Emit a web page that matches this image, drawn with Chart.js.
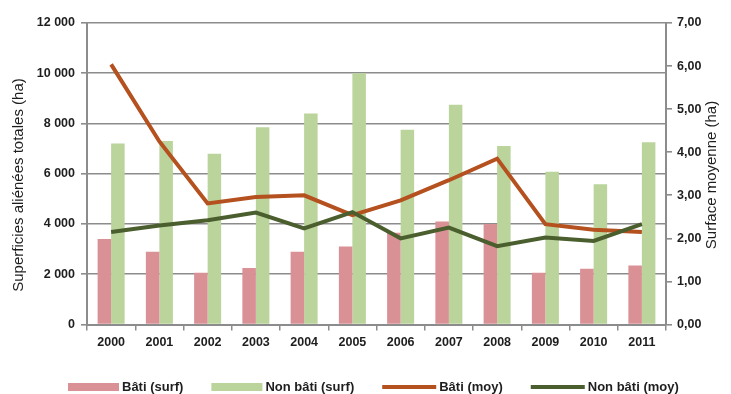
<!DOCTYPE html>
<html><head><meta charset="utf-8">
<script src="https://cdn.jsdelivr.net/npm/chart.js@4.4.0/dist/chart.umd.min.js"></script>
<style>html,body{margin:0;padding:0;background:#fff;}#wrap{width:731px;height:394px;}</style>
</head><body><div id="wrap"><canvas id="c" width="731" height="394"></canvas></div>
<script>
const years = ['2000','2001','2002','2003','2004','2005','2006','2007','2008','2009','2010','2011'];
const batiSurf = [3400, 2900, 2060, 2250, 2900, 3100, 3650, 4100, 4000, 2060, 2220, 2350];
const nonBatiSurf = [7200, 7300, 6800, 7850, 8400, 10000, 7750, 8750, 7100, 6080, 5580, 7250];
const batiMoy = [6.04, 4.25, 2.81, 2.96, 3.00, 2.54, 2.88, 3.35, 3.85, 2.33, 2.20, 2.15];
const nonBatiMoy = [2.15, 2.30, 2.42, 2.60, 2.23, 2.61, 2.00, 2.25, 1.82, 2.02, 1.94, 2.33];
const leftTicks = [0, 2000, 4000, 6000, 8000, 10000, 12000];
const rightTicks = [0, 1, 2, 3, 4, 5, 6, 7];
const leftTitle = 'Superficies aliénées totales (ha)';
const rightTitle = 'Surface moyenne (ha)';

const GRID = '#8c8c8c';
const TXT = '#1e1e1e';
const tickFont = {family: '"Liberation Sans", Arial, sans-serif', size: 12.5, weight: 'bold'};

function fmtThousands(v){
  const s = String(Math.round(v));
  return s.replace(/\B(?=(\d{3})+(?!\d))/g, ' ');
}

const customPlugin = {
  id: 'custom',
  afterDraw(chart){
    const ctx = chart.ctx;
    ctx.save();
    ctx.fillStyle = TXT;
    ctx.font = '15px "Liberation Sans", Arial, sans-serif';
    ctx.textAlign = 'center';
    ctx.textBaseline = 'middle';
    ctx.save(); ctx.translate(19, 185); ctx.rotate(-Math.PI/2); ctx.fillText(leftTitle, 0, 0); ctx.restore();
    ctx.save(); ctx.translate(712, 175); ctx.rotate(-Math.PI/2); ctx.fillText(rightTitle, 0, 0); ctx.restore();
    // legend
    let x = 68;
    const yc = 387;
    ctx.font = 'bold 13px "Liberation Sans", Arial, sans-serif';
    ctx.textAlign = 'left';
    const ds = chart.data.datasets;
    ds.forEach(d => {
      if (d.type === 'line') {
        ctx.strokeStyle = d.borderColor; ctx.lineWidth = 4;
        ctx.beginPath(); ctx.moveTo(x, yc); ctx.lineTo(x + 54, yc); ctx.stroke();
        x += 54;
      } else {
        ctx.fillStyle = d.backgroundColor;
        ctx.fillRect(x, yc - 4, 51, 8);
        x += 51;
      }
      x += 3;
      ctx.fillStyle = TXT;
      ctx.fillText(d.label, x, yc + 0.5);
      x += ctx.measureText(d.label).width + 28;
    });
    ctx.restore();
  }
};

new Chart(document.getElementById('c'), {
  type: 'bar',
  data: {
    labels: years,
    datasets: [
      {type:'bar', label:'Bâti (surf)', data: batiSurf, backgroundColor:'#da9196', yAxisID:'y', order:2, categoryPercentage:0.56, barPercentage:1},
      {type:'bar', label:'Non bâti (surf)', data: nonBatiSurf, backgroundColor:'#bad49b', yAxisID:'y', order:3, categoryPercentage:0.56, barPercentage:1},
      {type:'line', label:'Bâti (moy)', data: batiMoy, borderColor:'#b5501f', borderWidth:4, pointRadius:0, tension:0, yAxisID:'y1', order:1, fill:false},
      {type:'line', label:'Non bâti (moy)', data: nonBatiMoy, borderColor:'#4a5e2e', borderWidth:4, pointRadius:0, tension:0, yAxisID:'y1', order:0, fill:false}
    ]
  },
  options: {
    responsive: false,
    animation: false,
    devicePixelRatio: 1,
    layout: {padding: {left:0, right:0, top:23, bottom:0}},
    plugins: {legend:{display:false}, tooltip:{enabled:false}},
    scales: {
      x: {
        offset: true,
        grid: {drawOnChartArea:false, offset:true, tickLength:6, color:GRID, lineWidth:1.5},
        border: {color:GRID, width:2},
        ticks: {font: tickFont, color: TXT, padding: 5, maxRotation:0},
        afterFit(s){ s.height = 394 - 324.5; }
      },
      y: {
        position:'left', min:0, max:12000,
        afterBuildTicks(s){ s.ticks = leftTicks.map(v => ({value:v})); },
        grid: {color:GRID, lineWidth:1.6, tickLength:6},
        border: {color:GRID, width:2},
        ticks: {font: tickFont, color: TXT, padding: 6, callback: v => fmtThousands(v)},
        afterFit(s){ s.width = 87; }
      },
      y1: {
        position:'right', min:0, max:7,
        afterBuildTicks(s){ s.ticks = rightTicks.map(v => ({value:v})); },
        grid: {drawOnChartArea:false, color:GRID, lineWidth:1.6, tickLength:6},
        border: {color:GRID, width:2},
        ticks: {font: tickFont, color: TXT, padding: 5, callback: v => v.toFixed(2).replace('.', ',')},
        afterFit(s){ s.width = 731 - 666; }
      }
    }
  },
  plugins: [customPlugin]
});
</script>
</body></html>
